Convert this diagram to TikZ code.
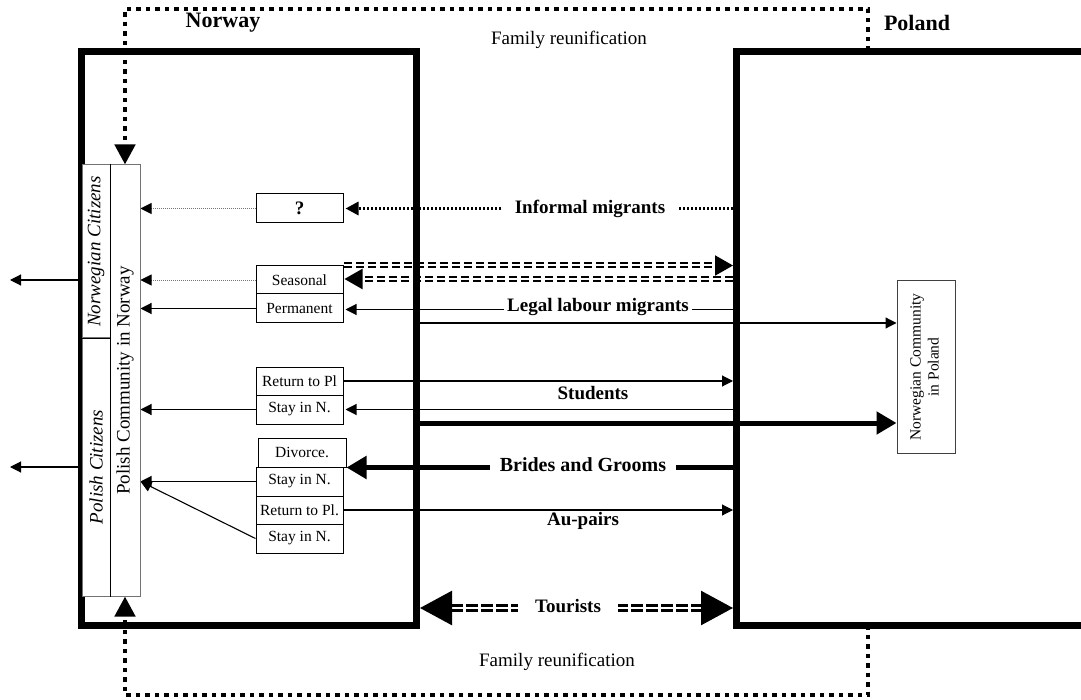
\documentclass[tikz,border=0pt]{standalone}
\usepackage{fontspec}
\setmainfont{Liberation Serif}
\usepackage{graphicx}
\usetikzlibrary{arrows.meta}
\pgfdeclarelayer{conn}
\pgfdeclarelayer{frame}
\pgfsetlayers{conn,frame,main}
\begin{document}
\begin{tikzpicture}[x=1pt,y=-1pt,
  frame/.style={line width=7pt, line join=miter},
  famdot/.style={line width=4.5pt, dash pattern=on 4.5pt off 5pt, line join=miter},
  colcell/.style={draw=black!55, line width=1pt, fill=white, inner sep=0pt, font=\fontsize{19}{22}\selectfont},
  box/.style={draw, line width=1pt, fill=white, inner sep=0pt, minimum width=87pt, font=\fontsize{15.5}{18}\selectfont},
  lbl/.style={font=\bfseries\fontsize{19}{22}\selectfont, inner sep=0pt},
  plain/.style={font=\fontsize{19}{22}\selectfont, inner sep=0pt},
  head/.style={font=\bfseries\fontsize{22}{26}\selectfont, inner sep=0pt},
  thinarr/.style={line width=1.1pt, -{Triangle[length=11pt,width=11pt]}},
  grdot/.style={line width=0.9pt, draw=black!55, dash pattern=on 1pt off 1pt, -{Triangle[length=11pt,width=11pt,color=black]}},
  infdot/.style={line width=3pt, dash pattern=on 2.5pt off 1.5pt, -{Triangle[length=13pt,width=13pt]}},
  dbl/.style={line width=2pt, double, double distance=2pt, dash pattern=on 8pt off 4pt},
  thickarr/.style={line width=5pt, -{Triangle[length=20pt,width=22pt]}},
  tour/.style={line width=2.5pt, double, double distance=2.5pt, dash pattern=on 12pt off 3pt}
]
\clip (0,0) rectangle (1081,700);

% ---------- nodes ----------
\node[head] (norway) at (223,23) {Norway};
\node[head] (poland) at (917,23) {Poland};
\node[plain] (fr1) at (569,40) {Family reunification};
\node[plain] (fr2) at (557,662) {Family reunification};

\node[colcell, minimum width=28pt, minimum height=173pt] (nc) at (96,251.5) {\rotatebox{90}{\itshape Norwegian Citizens}};
\node[colcell, minimum width=28pt, minimum height=258pt] (pc) at (96,467) {\rotatebox{90}{\itshape Polish Citizens}};
\node[colcell, draw=black!55, minimum width=30pt, minimum height=431pt] (pcn) at (125,380.5) {\rotatebox{90}{Polish Community in Norway}};
\draw[line width=1pt] (nc.north east) -- (pc.south east);
\draw[line width=1pt] (nc.south west) -- (nc.south east);

\node[box, minimum height=29pt, font=\bfseries\fontsize{19}{22}\selectfont] (q) at (299.5,208.5) {?};
\node[box, minimum height=28pt] (sea) at (299.5,280) {Seasonal};
\node[box, minimum height=29pt] (perm) at (299.5,308.5) {Permanent};
\node[box, minimum height=28pt] (rp1) at (299.5,381) {Return to Pl};
\node[box, minimum height=29pt] (sn1) at (299.5,409.5) {Stay in N.};
\node[box, minimum width=88pt, minimum height=29pt] (div) at (302,452.5) {Divorce.};
\node[box, minimum height=29pt] (sn2) at (299.5,481.5) {Stay in N.};
\node[box, minimum height=28pt] (rp2) at (299.5,510) {Return to Pl.};
\node[box, minimum height=29pt] (sn3) at (299.5,538.5) {Stay in N.};

\node[draw=black!75, line width=1pt, minimum width=58pt, minimum height=172pt, inner sep=0pt] (ncp) at (926,367)
  {\rotatebox{90}{\fontsize{15.5}{18}\selectfont\begin{tabular}{@{}c@{}}Norwegian Community\\in Poland\end{tabular}}};

% ---------- coordinates ----------
\coordinate (PL) at (733,338);
\coordinate (ftop) at (868,51);
\coordinate (fbot) at (868,625);
\coordinate (out1) at (10,280);
\coordinate (out2) at (10,467);
\coordinate (nr1) at (416,323);
\coordinate (nr2) at (416,423);
\coordinate (tl) at (420,608);
\coordinate (tr) at (733,608);

% ---------- frames ----------
\begin{pgfonlayer}{frame}
\draw[frame] (81.5,51.5) rectangle (416.5,625);
\draw[frame] (1095,51.5) -- (736.5,51.5) -- (736.5,625) -- (1095,625);
\end{pgfonlayer}

% ---------- connectors ----------
\begin{pgfonlayer}{conn}
\draw[famdot, -{Triangle[length=20pt,width=20pt]}] (ftop) -- (868,9) -- (125,9) -- (pcn.north);
\draw[famdot, -{Triangle[length=20pt,width=20pt]}] (fbot) -- (868,695) -- (125,695) -- (pcn.south);

\draw[thinarr] (nc.west |- out1) -- (out1);
\draw[thinarr] (pc.west |- out2) -- (out2);

\draw[grdot] (q.west) -- (q.west -| pcn.east);
\draw[infdot] (q.east -| PL) -- ([xshift=2pt]q.east);

\draw[grdot] (sea.west) -- (sea.west -| pcn.east);
\draw[dbl, -{Triangle[length=18pt,width=20pt]}] (sea.north east) -- (sea.north east -| PL);
\draw[dbl, -{Triangle[length=18pt,width=20pt]}] ([yshift=1pt]sea.east -| PL) -- ([xshift=1pt,yshift=1pt]sea.east);

\draw[thinarr] (perm.west) -- (perm.west -| pcn.east);
\draw[thinarr] ([yshift=-1pt]perm.east -| PL) -- ([xshift=2pt,yshift=-1pt]perm.east);
\draw[thinarr] (nr1) -- (nr1 -| ncp.west);

\draw[thinarr] (rp1.east) -- (rp1.east -| PL);
\draw[thinarr] (sn1.east -| PL) -- ([xshift=2pt]sn1.east);
\draw[thinarr] (sn1.west) -- (sn1.west -| pcn.east);
\draw[thickarr] (nr2) -- (nr2 -| ncp.west);

\draw[thickarr] (div.south east -| PL) -- (div.south east);
\draw[thinarr] (sn2.west) -- (sn2.west -| pcn.east);
\draw[thinarr] (sn3.west) -- (sn2.west -| pcn.east);
\draw[thinarr] (rp2.east) -- (rp2.east -| PL);

\draw[tour, {Triangle[length=32pt,width=34pt]}-{Triangle[length=32pt,width=34pt]}] (tl) -- (tr);
\end{pgfonlayer}

% ---------- labels on connectors ----------
\node[lbl, fill=white, inner xsep=12pt, inner ysep=2pt] (linf) at (590,209) {Informal migrants};
\node[lbl, fill=white, inner xsep=3pt, inner ysep=2pt] (llab) at (598,307) {Legal labour migrants};
\node[lbl] (lstu) at (593,393) {Students};
\node[lbl, fill=white, inner xsep=10pt, inner ysep=2pt, font=\bfseries\fontsize{20}{23}\selectfont] (lbg) at (583,465) {Brides and Grooms};
\node[lbl] (lau) at (583,521) {Au-pairs};
\node[lbl, fill=white, inner xsep=17pt, inner ysep=2pt] (ltour) at (568,606) {Tourists};
\end{tikzpicture}
\end{document}
